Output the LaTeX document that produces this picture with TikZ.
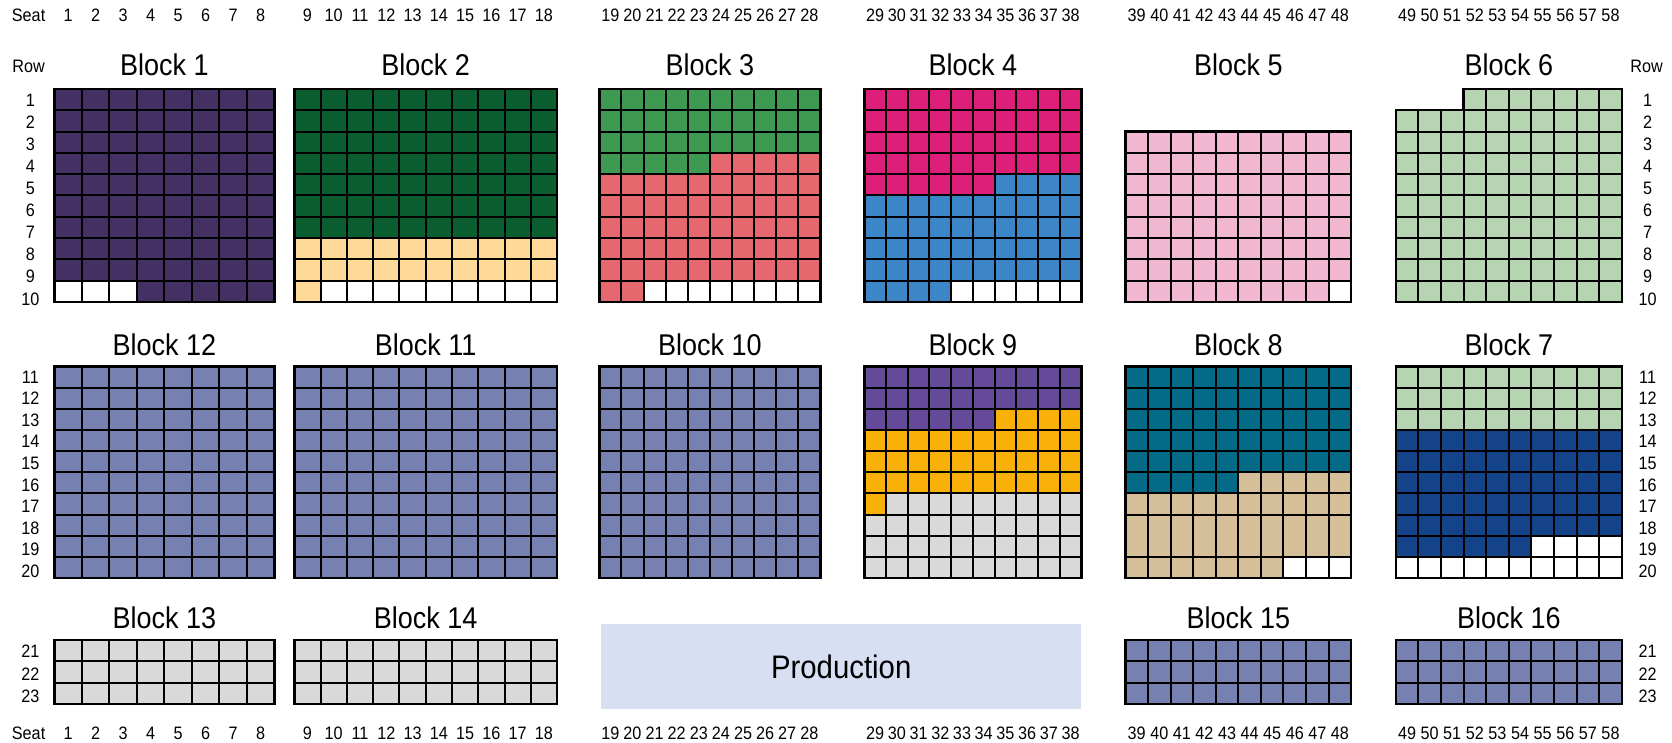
\documentclass[tikz,border=0pt]{standalone}
\usepackage{fontspec}
\setmainfont{Liberation Sans}[FakeStretch=0.9]
\usepackage{tikz}
\definecolor{darkplum}{HTML}{443063}
\definecolor{darkgreen}{HTML}{0A5E2F}
\definecolor{peach}{HTML}{FFD998}
\definecolor{midgreen}{HTML}{3D9A50}
\definecolor{salmon}{HTML}{E6686F}
\definecolor{magenta}{HTML}{DE1F79}
\definecolor{skyblue}{HTML}{3C85C6}
\definecolor{pink}{HTML}{F2B8D1}
\definecolor{sage}{HTML}{B6D3B2}
\definecolor{slate}{HTML}{7680B1}
\definecolor{violet}{HTML}{644A99}
\definecolor{amber}{HTML}{F9B10A}
\definecolor{lightgray}{HTML}{D9D9D9}
\definecolor{teal}{HTML}{036A88}
\definecolor{tan}{HTML}{D5BF99}
\definecolor{navy}{HTML}{14438A}
\definecolor{stagefill}{HTML}{D9DFF2}
% inner seat lines and outer frame of a block, in seat units
\newcommand{\seatlines}[2]{%
  \pgfmathtruncatemacro{\lastcol}{#1-1}%
  \pgfmathtruncatemacro{\lastrow}{#2-1}%
  \foreach \i in {1,...,\lastcol} {\draw[seatline] (\i,0) -- (\i,#2);}
  \foreach \j in {1,...,\lastrow} {\draw[seatline] (0,\j) -- (#1,\j);}
  \draw[blockline] (0,0) rectangle (#1,#2);
}

\begin{document}
\begin{tikzpicture}[x=0.5pt, y=-0.5pt,
    seatline/.style={line width=1pt},
    blockline/.style={line width=1.2pt},
    title/.style={font=\fontsize{15}{18}\selectfont, inner sep=0pt},
    seatnum/.style={font=\fontsize{9}{11}\selectfont, inner sep=0pt}]
        \useasboundingbox (0,0) rectangle (1672,743);
        % Top row of blocks
        \begin{scope}[shift={(54.3,89)}, x=13.75pt, y=-10.65pt]
            \fill[darkplum] (0,0) rectangle (8,9) (3,9) rectangle (8,10);
            \seatlines{8}{10}
        \end{scope}
        \begin{scope}[shift={(294.3,89)}, x=13.14pt, y=-10.65pt]
            \fill[darkgreen] (0,0) rectangle (10,7);
            \fill[peach] (0,7) rectangle (10,9) (0,9) rectangle (1,10);
            \seatlines{10}{10}
        \end{scope}
        \begin{scope}[shift={(599.3,89)}, x=11.055pt, y=-10.65pt]
            \fill[midgreen] (0,0) rectangle (10,3) (0,3) rectangle (5,4);
            \fill[salmon] (5,3) rectangle (10,4) (0,4) rectangle (10,9) (0,9) rectangle (2,10);
            \seatlines{10}{10}
        \end{scope}
        \begin{scope}[shift={(864.3,89)}, x=10.855pt, y=-10.65pt]
            \fill[magenta] (0,0) rectangle (10,4) (0,4) rectangle (6,5);
            \fill[skyblue] (6,4) rectangle (10,5) (0,5) rectangle (10,9) (0,9) rectangle (4,10);
            \seatlines{10}{10}
        \end{scope}
        \begin{scope}[shift={(1125.4,131.6)}, x=11.29pt, y=-10.65pt]
            \fill[pink] (0,0) rectangle (10,7) (0,7) rectangle (9,8);
            \seatlines{10}{8}
        \end{scope}
        \begin{scope}[shift={(1395.7,89)}, x=11.305pt, y=-10.65pt]
            \fill[sage] (0,1) -- (3,1) -- (3,0) -- (10,0) -- (10,10) -- (0,10) -- cycle;
            \foreach \i in {1,2} {\draw[seatline] (\i,1) -- (\i,10);}
            \foreach \i in {3,...,9} {\draw[seatline] (\i,0) -- (\i,10);}
            \foreach \j in {1,...,9} {\draw[seatline] (0,\j) -- (10,\j);}
            \draw[blockline] (0,1) -- (3,1) -- (3,0) -- (10,0) -- (10,10) -- (0,10) -- cycle;
        \end{scope}
        % Middle row of blocks
        \begin{scope}[shift={(54.3,366.5)}, x=13.75pt, y=-10.575pt]
            \fill[slate] (0,0) rectangle (8,10);
            \seatlines{8}{10}
        \end{scope}
        \begin{scope}[shift={(294.3,366.5)}, x=13.14pt, y=-10.575pt]
            \fill[slate] (0,0) rectangle (10,10);
            \seatlines{10}{10}
        \end{scope}
        \begin{scope}[shift={(599.3,366.5)}, x=11.055pt, y=-10.575pt]
            \fill[slate] (0,0) rectangle (10,10);
            \seatlines{10}{10}
        \end{scope}
        \begin{scope}[shift={(864.3,366.5)}, x=10.855pt, y=-10.575pt]
            \fill[violet] (0,0) rectangle (10,2) (0,2) rectangle (6,3);
            \fill[amber] (6,2) rectangle (10,3) (0,3) rectangle (10,6) (0,6) rectangle (1,7);
            \fill[lightgray] (1,6) rectangle (10,7) (0,7) rectangle (10,10);
            \seatlines{10}{10}
        \end{scope}
        \begin{scope}[shift={(1125.4,366.5)}, x=11.29pt, y=-10.575pt]
            \fill[teal] (0,0) rectangle (10,5) (0,5) rectangle (5,6);
            \fill[tan] (5,5) rectangle (10,6) (0,6) rectangle (10,9) (0,9) rectangle (7,10);
            \foreach \i in {1,...,9} {\draw[seatline] (\i,0) -- (\i,10);}
            \foreach \j in {1,...,7,9} {\draw[seatline] (0,\j) -- (10,\j);}
            \draw[blockline] (0,0) rectangle (10,10);
        \end{scope}
        \begin{scope}[shift={(1395.7,366.5)}, x=11.305pt, y=-10.575pt]
            \fill[sage] (0,0) rectangle (10,3);
            \fill[navy] (0,3) rectangle (10,8) (0,8) rectangle (6,9);
            \seatlines{10}{10}
        \end{scope}
        % Bottom row of blocks
        \begin{scope}[shift={(54.3,640)}, x=13.75pt, y=-10.65pt]
            \fill[lightgray] (0,0) rectangle (8,3);
            \seatlines{8}{3}
        \end{scope}
        \begin{scope}[shift={(294.3,640)}, x=13.14pt, y=-10.65pt]
            \fill[lightgray] (0,0) rectangle (10,3);
            \seatlines{10}{3}
        \end{scope}
        \begin{scope}[shift={(1125.4,640)}, x=11.29pt, y=-10.65pt]
            \fill[slate] (0,0) rectangle (10,3);
            \seatlines{10}{3}
        \end{scope}
        \begin{scope}[shift={(1395.7,640)}, x=11.305pt, y=-10.65pt]
            \fill[slate] (0,0) rectangle (10,3);
            \seatlines{10}{3}
        \end{scope}
        \node[fill=stagefill, minimum width=240.2pt, minimum height=42.5pt, inner sep=0pt,
              font=\fontsize{16.3}{19}\selectfont] (stage) at (841.2,666.5) {Production};
        % Block titles
        \foreach \b/\bx/\by in {1/164.3/65, 2/425.7/65, 3/709.9/65, 4/972.9/65, 5/1238.3/65, 6/1508.8/65,
            12/164.3/345, 11/425.7/345, 10/709.9/345, 9/972.9/345, 8/1238.3/345, 7/1508.8/345,
            13/164.3/618, 14/425.7/618, 15/1238.3/618, 16/1508.8/618}
            {\node[title] (block\b) at (\bx,\by) {Block \b};}
        % Seat numbers
        \node[seatnum] (seattop) at (28.6,15) {Seat};
        \node[seatnum] (seatbot) at (28.6,733) {Seat};
        \foreach \first/\last/\xl/\w in {1/8/54.3/27.5, 9/18/294.3/26.28, 19/28/599.3/22.11,
            29/38/864.3/21.71, 39/48/1125.4/22.58, 49/58/1395.7/22.61}{
            \foreach \s in {\first,...,\last}{
                \pgfmathsetmacro{\sx}{\xl+\w*(\s-\first+0.5)}
                \node[seatnum] (top\s) at (\sx,15) {\s};
                \node[seatnum] (bot\s) at (\sx,733) {\s};
            }
        }
        % Row numbers
        \node[seatnum] (rowleft) at (28.6,66) {Row};
        \node[seatnum] (rowright) at (1646.6,66) {Row};
        \foreach \r in {1,...,10}{
            \pgfmathsetmacro{\ry}{100+22.1*(\r-1)}
            \node[seatnum] (rl\r) at (30.4,\ry) {\r};
            \node[seatnum] (rr\r) at (1647.6,\ry) {\r};
        }
        \foreach \r in {11,...,20}{
            \pgfmathsetmacro{\ry}{377+21.6*(\r-11)}
            \node[seatnum] (rl\r) at (30.4,\ry) {\r};
            \node[seatnum] (rr\r) at (1647.6,\ry) {\r};
        }
        \foreach \r in {21,22,23}{
            \pgfmathsetmacro{\ry}{651+22.8*(\r-21)}
            \node[seatnum] (rl\r) at (30.4,\ry) {\r};
            \node[seatnum] (rr\r) at (1647.6,\ry) {\r};
        }
    \end{tikzpicture}
\end{document}
